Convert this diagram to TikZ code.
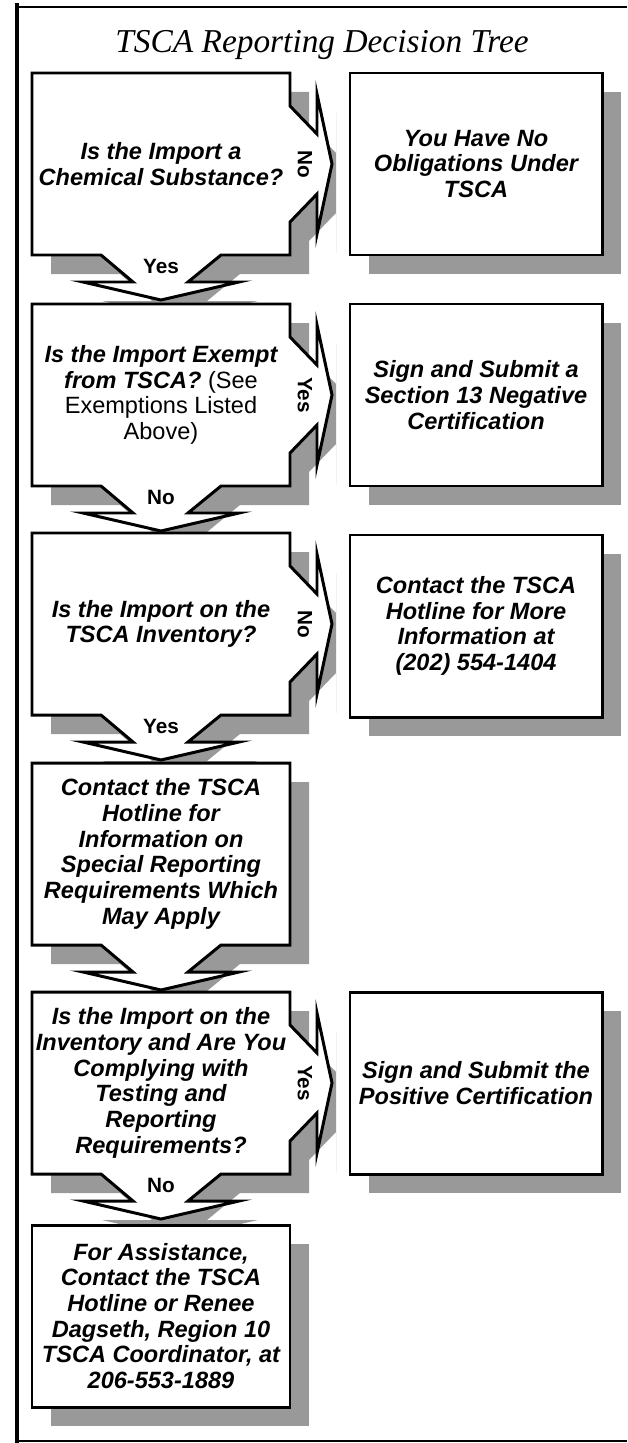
\documentclass[tikz,border=0pt]{standalone}
\usepackage{fontspec}
\setmainfont{Liberation Sans}
\newfontfamily\titlefont{Liberation Serif}
\usetikzlibrary{calc, backgrounds}

% text of the boxes
\newcommand{\qfont}{\fontsize{13.4}{14.6}\selectfont\bfseries\itshape}
% outline pieces, measured from the centre of a box node
\newcommand{\nopart}[1]{}
\newcommand{\sidepart}[1]{-- ($(#1)+(129,-58)$) -- ($(#1)+(156,-30)$) -- ($(#1)+(156,-70)$)
  -- ($(#1)+(171,0)$) -- ($(#1)+(156,70)$) -- ($(#1)+(156,30)$) -- ($(#1)+(129,58)$)}
\newcommand{\downpart}[1]{-- ($(#1)+(60,91)$) -- ($(#1)+(27,118)$) -- ($(#1)+(78,118)$)
  -- ($(#1)+(0,136)$) -- ($(#1)+(-78,118)$) -- ($(#1)+(-28,118)$) -- ($(#1)+(-60,91)$)}
\newcommand{\leftshape}[3]{($(#1)+(-129,-91)$) -- ($(#1)+(129,-91)$) #2{#1}
  -- ($(#1)+(129,91)$) #3{#1} -- ($(#1)+(-129,91)$) -- cycle}
\newcommand{\rightshape}[1]{($(#1)+(-126,-91)$) rectangle ($(#1)+(126,91)$)}

\begin{document}
\begin{tikzpicture}[x=0.02cm, y=-0.02cm, line join=miter,
  every node/.style={inner sep=0pt},
  qbox/.style={align=center, font=\qfont},
  lbl/.style={font=\fontsize{11.8}{13}\selectfont\bfseries},
  outline/.style={draw, fill=white, line width=1.7pt},
  shadowfill/.style={fill=black!40, transform canvas={shift={(19,19)}}}]
\useasboundingbox (0,0) rectangle (627,1443);
% frame
\draw[line width=2.3pt] (17,3) -- (17,1443);
\draw[line width=1.5pt] (16,7) -- (627,7);
\draw[line width=0.6pt] (17,1441) -- (627,1441);
% title
\node[font=\titlefont\itshape\fontsize{19}{22}\selectfont, anchor=base] (title) at (322,53) {TSCA Reporting Decision Tree};
% left column
\node[qbox] (q1) at (161,164) {Is the Import a\\Chemical Substance?};
\node[qbox] (q2) at (161,395) {Is the Import Exempt\\from TSCA? {\mdseries\upshape(See}\\{\mdseries\upshape Exemptions Listed}\\{\mdseries\upshape Above)}};
\node[qbox] (q3) at (161,624) {Is the Import on the\\TSCA Inventory?};
\node[qbox] (q4) at (161,854) {Contact the TSCA\\Hotline for\\Information on\\Special Reporting\\Requirements Which\\May Apply};
\node[qbox] (q5) at (161,1083) {Is the Import on the\\Inventory and Are You\\Complying with\\Testing and\\Reporting\\Requirements?};
\node[qbox] (q6) at (161,1316) {For Assistance,\\Contact the TSCA\\Hotline or Renee\\Dagseth, Region 10\\TSCA Coordinator, at\\206-553-1889};
% right column
\node[qbox] (r1) at (476,164) {You Have No\\Obligations Under\\TSCA};
\node[qbox] (r2) at (476,395) {Sign and Submit a\\Section 13 Negative\\Certification};
\node[qbox] (r3) at (476,626) {Contact the TSCA\\Hotline for More\\Information at\\(202) 554-1404};
\node[qbox] (r5) at (476,1083) {Sign and Submit the\\Positive Certification};
% answers
\node[lbl, rotate=-90] (q1no) at ($(q1)+(144,0)$) {No};
\node[lbl, anchor=base] (q1yes) at ($(q1)+(0,109)$) {Yes};
\node[lbl, rotate=-90] (q2yes) at ($(q2)+(144,0)$) {Yes};
\node[lbl, anchor=base] (q2no) at ($(q2)+(0,109)$) {No};
\node[lbl, rotate=-90] (q3no) at ($(q3)+(144,0)$) {No};
\node[lbl, anchor=base] (q3yes) at ($(q3)+(0,109)$) {Yes};
\node[lbl, rotate=-90] (q5yes) at ($(q5)+(144,0)$) {Yes};
\node[lbl, anchor=base] (q5no) at ($(q5)+(0,109)$) {No};
% shadows and outlines
\begin{scope}[on background layer]
  \begin{scope}
    \clip (0,0) rectangle (336,1443);
    \fill[shadowfill] \leftshape{q1}{\sidepart}{\downpart};
    \fill[shadowfill] \leftshape{q2}{\sidepart}{\downpart};
    \fill[shadowfill] \leftshape{q3}{\sidepart}{\downpart};
    \fill[shadowfill] \leftshape{q4}{\nopart}{\downpart};
    \fill[shadowfill] \leftshape{q5}{\sidepart}{\downpart};
    \fill[shadowfill] \leftshape{q6}{\nopart}{\nopart};
  \end{scope}
  \foreach \r in {r1,r2,r3,r5}
    \fill[shadowfill] \rightshape{\r};
  \path[outline] \leftshape{q1}{\sidepart}{\downpart};
  \path[outline] \leftshape{q2}{\sidepart}{\downpart};
  \path[outline] \leftshape{q3}{\sidepart}{\downpart};
  \path[outline] \leftshape{q4}{\nopart}{\downpart};
  \path[outline] \leftshape{q5}{\sidepart}{\downpart};
  \path[outline] \leftshape{q6}{\nopart}{\nopart};
  \foreach \r in {r1,r2,r3,r5}
    \path[outline] \rightshape{\r};
\end{scope}
\end{tikzpicture}
\end{document}
